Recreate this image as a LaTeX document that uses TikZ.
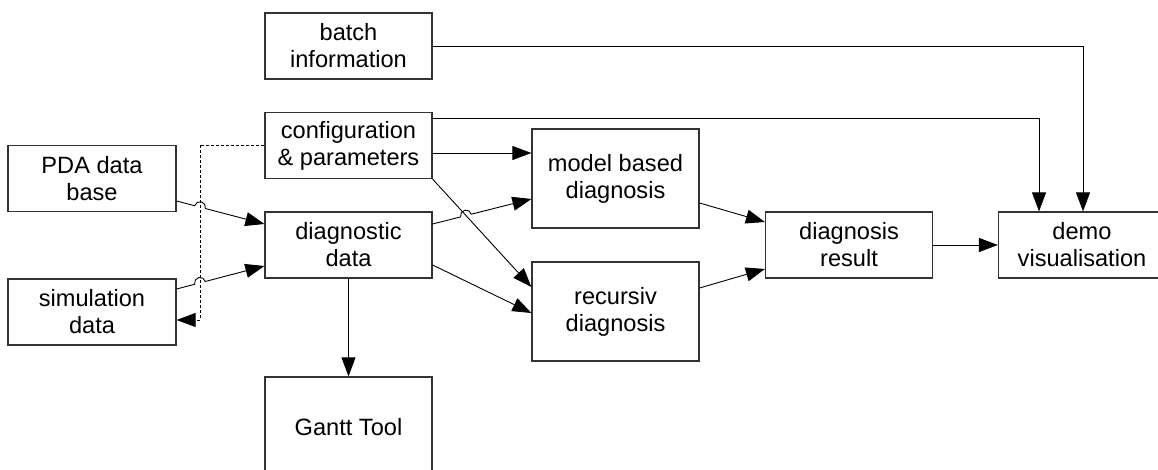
\documentclass[tikz,border=0pt]{standalone}
\usepackage{fontspec}
\setmainfont{Liberation Sans}
\usetikzlibrary{arrows.meta,calc,intersections}
\tikzset{
  blk/.style={draw=black!80, line width=1.2pt, minimum width=167pt, minimum height=66pt,
    inner sep=0pt, align=center, font=\fontsize{23.6}{27}\selectfont},
  tall/.style={minimum height=99pt},
  tip/.style={-{Triangle[length=19pt,width=14pt]}},
  arr/.style={draw=black, line width=0.9pt, tip},
  ln/.style={draw=black, line width=0.9pt},
  dsh/.style={draw=black, line width=0.9pt, dash pattern=on 3pt off 2pt},
}
\newcommand\hopdraw[3]{%
  \path[name path=hoptmp] (#1) -- (#2);
  \path[name intersections={of=hoptmp and #3, by=hopI}];
  \draw[arr] let \p1=($(#2)-(#1)$), \n1={atan2(\y1,\x1)} in
    (#1) -- ($(hopI)!5.5pt!(#1)$) arc[start angle=\n1+180, end angle=\n1, radius=5.5pt] -- (#2);
}
\begin{document}
\begin{tikzpicture}[x=1pt,y=1pt]
\path[use as bounding box, clip] (0,0) rectangle (1158,470);
\fill[white] (0,0) rectangle (1158,470);
% boxes
\node[blk] (batch) at (348.5,424) {batch\\information};
\node[blk] (config) at (348.5,324.5) {configuration\\\& parameters};
\node[blk, minimum width=168pt] (pda) at (92,291.5) {PDA data\\base};
\node[blk] (diag) at (348.5,225) {diagnostic\\data};
\node[blk, minimum width=168pt] (sim) at (92,158) {simulation\\data};
\node[blk, minimum height=100pt] (gantt) at (348.5,43) {Gantt Tool};
\node[blk, tall] (model) at (615.5,291.5) {model based\\diagnosis};
\node[blk, tall] (recursiv) at (615.5,158.5) {recursiv\\diagnosis};
\node[blk] (result) at (849,225) {diagnosis\\result};
\node[blk] (demo) at (1082,225) {demo\\visualisation};
% named connector ends
\coordinate (dtop) at (200, 324.5);
\coordinate (dbot) at (200, 150);
\coordinate (simin) at ([yshift=-8pt]sim.east);
\coordinate (pdaout) at ([yshift=-22.5pt]pda.east);
\coordinate (diaginA) at ([yshift=21pt]diag.west);
\coordinate (simout) at ([yshift=23pt]sim.east);
\coordinate (diaginB) at ([yshift=-21pt]diag.west);
\coordinate (diagoutA) at ([yshift=21pt]diag.east);
\coordinate (modelinB) at ([yshift=-20.5pt]model.west);
\coordinate (diagoutB) at ([yshift=-20pt]diag.east);
\coordinate (recinB) at ([yshift=-1.5pt]recursiv.west);
\coordinate (recinA) at ([yshift=24.5pt]recursiv.west);
\coordinate (cfgoutM) at ([yshift=-7.5pt]config.east);
\coordinate (cfgoutD) at ([yshift=-6.5pt]config.north east);
\coordinate (demoinA) at ($(demo.north)+(-43,0)$);
\coordinate (demoinB) at ($(demo.north)+(1,0)$);
\coordinate (modelout) at ([yshift=-24.5pt]model.east);
\coordinate (resinA) at ([yshift=23pt]result.west);
\coordinate (recout) at ([yshift=23.5pt]recursiv.east);
\coordinate (resinB) at ([yshift=-24pt]result.west);
% dashed feedback
\draw[dsh] (config.west) -- (dtop);
\draw[dsh, name path=dashv] (dtop) -- (dbot |- simin);
\draw[dsh, tip] (dbot |- simin) -- (simin);
% inputs with hops
\hopdraw{pdaout}{diaginA}{dashv}
\hopdraw{simout}{diaginB}{dashv}
% config outputs
\draw[arr, name path=cr] (config.south east) -- (recinA);
\draw[arr] (cfgoutM) -- (cfgoutM -| model.west);
\draw[arr] (cfgoutD) -| (demoinA);
\draw[arr] (batch.east) -| (demoinB);
% diagnostic outputs
\hopdraw{diagoutA}{modelinB}{cr}
\draw[arr] (diagoutB) -- (recinB);
\draw[arr] (diag.south) -- (gantt.north);
% results
\draw[arr] (modelout) -- (resinA);
\draw[arr] (recout) -- (resinB);
\draw[arr] (result.east) -- (demo.west);
\end{tikzpicture}
\end{document}
